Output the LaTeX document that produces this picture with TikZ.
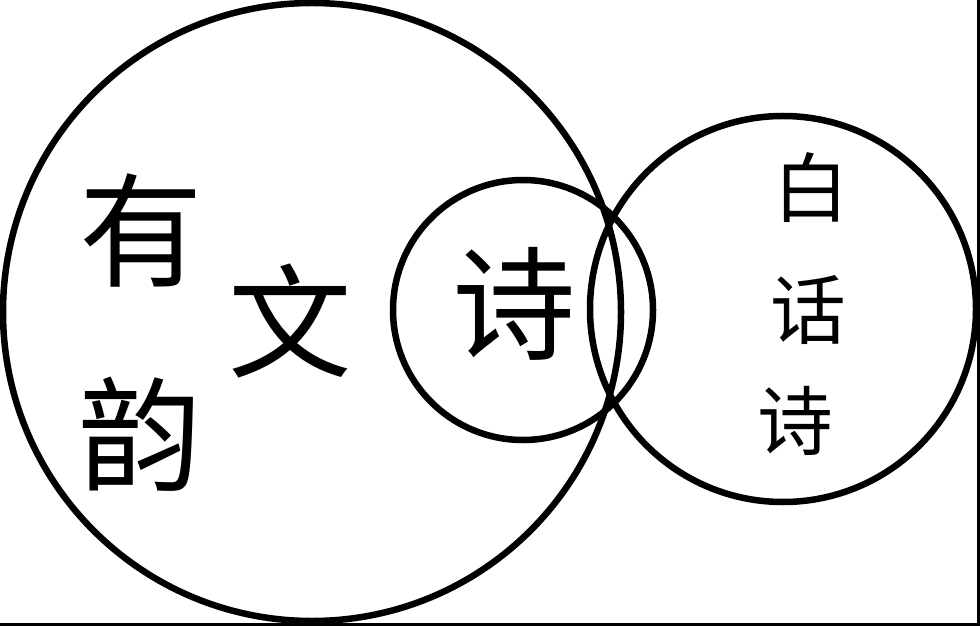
\documentclass[tikz,border=0pt]{standalone}
\usepackage{fontspec}
\newfontfamily\cjk{Noto Sans CJK SC}
\begin{document}
\begin{tikzpicture}[x=1bp,y=-1bp]
        \tikzset{ring/.style={line width=6.5bp, black},
                 bigchar/.style={font=\cjk\fontsize{124}{124}\selectfont, inner sep=0pt},
                 smallchar/.style={font=\cjk\fontsize{76}{76}\selectfont, inner sep=0pt}}
        \useasboundingbox (0,0) rectangle (980,626);

        \coordinate (wen) at (312,312);
        \coordinate (shi) at (523,310);
        \coordinate (bai) at (783,309);

        % Circles
        % {有韵文}
        \draw[ring] (wen) circle (309bp);
        % {诗}
        \draw[ring] (shi) circle (130bp);
        % {白话诗}
        \draw[ring] (bai) circle (193bp);

        % Scan edges (right, bottom)
        \coordinate (tr) at (978.5,0);
        \coordinate (br) at (978.5,624.5);
        \coordinate (bl) at (0,624.5);
        \draw[line width=3bp] (tr) -- (br) -- (bl);

        % Labels
        \node[bigchar] (you) at (141,230) {有};
        \node[bigchar] (yun) at (140,434) {韵};
        \node[bigchar] (wenz) at (290,321) {文};
        \node[bigchar] (shiz) at (514,304) {诗};
        \foreach \n/\x/\y/\t in {baiz/811/188/白, hua/808/310/话, shib/795/421/诗}
            \node[smallchar] (\n) at (\x,\y) {\t};
\end{tikzpicture}
\end{document}
